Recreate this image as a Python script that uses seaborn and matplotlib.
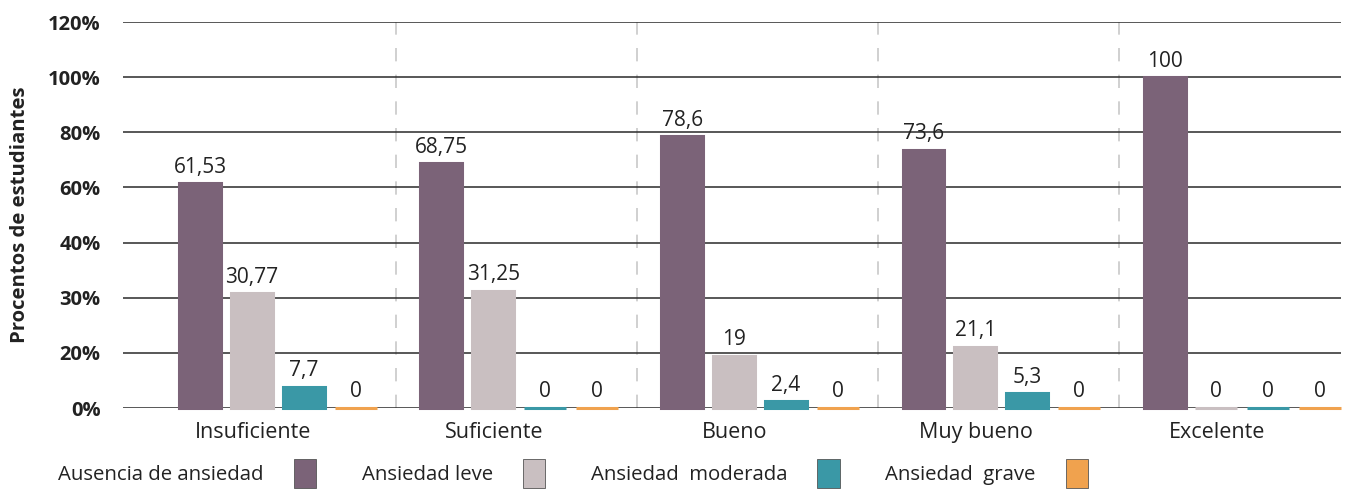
import numpy as np
import pandas as pd
import seaborn as sns
import matplotlib.pyplot as plt
from matplotlib.patches import Patch

# Data
niveles = ['Insuficiente', 'Suficiente', 'Bueno', 'Muy bueno', 'Excelente']
ansiedad = ['Ausencia de ansiedad', 'Ansiedad leve', 'Ansiedad  moderada', 'Ansiedad  grave']
ausencia = [61.53, 68.75, 78.6, 73.6, 100]
leve = [30.77, 31.25, 19, 21.1, 0]
moderada = [7.7, 0, 2.4, 5.3, 0]
grave = [0, 0, 0, 0, 0]
etiquetas = [
    ['61,53', '68,75', '78,6', '73,6', '100'],
    ['30,77', '31,25', '19', '21,1', '0'],
    ['7,7', '0', '2,4', '5,3', '0'],
    ['0', '0', '0', '0', '0'],
]
colores = ['#7b6378', '#c9bfc1', '#3a98a6', '#f0a24e']
# the original axis has equally spaced ticks with these labels
y_ticks = [0, 20, 30, 40, 60, 80, 100, 120]

df = pd.DataFrame({
    'nivel': niveles * 4,
    'ansiedad': np.repeat(ansiedad, 5),
    'pct': ausencia + leve + moderada + grave,
})

sns.set_style('white')
plt.rcParams['font.family'] = ['Open Sans', 'DejaVu Sans']

fig = plt.figure(figsize=(13.63, 5.01), dpi=100)
ax = fig.add_axes([0.0902, 0.1856, 0.8938, 0.7704])

sns.barplot(data=df, x='nivel', y='pct', hue='ansiedad', palette=colores,
            width=0.86, gap=0.19, saturation=1, legend=False, ax=ax)

# edges in same colour so that zero bars show as a thin strip
for cont, col in zip(ax.containers, colores):
    for b in cont:
        b.set_edgecolor(col)
        b.set_linewidth(2.2)
        b.set_clip_on(False)
        b.set_zorder(3)

idx = np.arange(len(y_ticks))
fwd = lambda v: np.interp(v, y_ticks, idx)
inv = lambda i: np.interp(i, idx, y_ticks)
ax.set_yscale('function', functions=(fwd, inv))
ax.set_ylim(0, 120)
ax.set_yticks(y_ticks)
ax.set_yticklabels([f'{t}%' for t in y_ticks], fontsize=14.5, fontweight='bold', color='#222222')

for cont, labs in zip(ax.containers, etiquetas):
    ax.bar_label(cont, labels=labs, padding=4, fontsize=15, color='#222222')

ax.set_xlim(-0.643, 4.41)
ax.set_xticks(np.arange(5) - 0.104)
ax.set_xticklabels(niveles, fontsize=15.5, color='#222222')
ax.tick_params(axis='x', length=0, pad=10)
ax.tick_params(axis='y', length=0, pad=16)
ax.set_xlabel('')
ax.set_ylabel('Procentos de estudiantes', fontsize=14.6, fontweight='bold', color='#222222', labelpad=13)

ax.yaxis.grid(True, color='#2a2a2a', linewidth=1.1)
ax.set_axisbelow(True)
for s in ax.spines.values():
    s.set_visible(False)

for x in np.arange(4) + 0.49:
    ax.axvline(x, color='#c8c8c8', linewidth=1.2, linestyle=(0, (8, 8)), zorder=0)

handles = [Patch(facecolor=c, edgecolor='#555555', linewidth=0.6) for c in colores]
fig.legend(handles, ansiedad, loc='lower left', bbox_to_anchor=(0.0353, 0.005), ncol=4,
           frameon=False, markerfirst=False, fontsize=14.7, handlelength=1.08,
           handleheight=1.85, handletextpad=1.47, columnspacing=2.25, borderpad=0,
           labelcolor='#222222')

fig.savefig('out.png', dpi=100)
